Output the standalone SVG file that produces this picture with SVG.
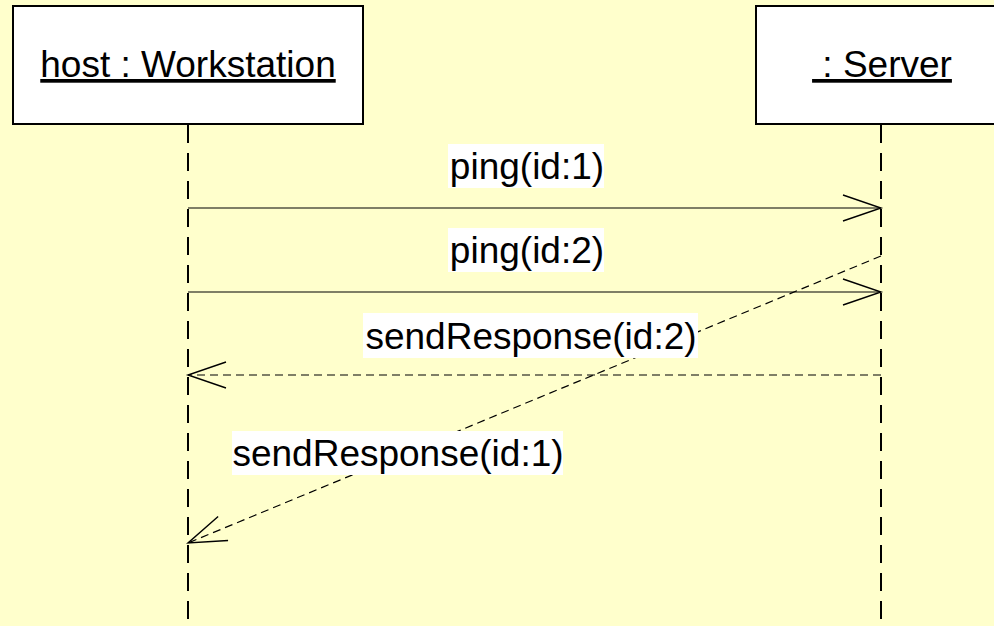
<svg xmlns="http://www.w3.org/2000/svg" width="994" height="626" viewBox="0 0 994 626">
<defs>
<style>
.obj{fill:#fff;stroke:#000;stroke-width:2}
.life{stroke:#000;stroke-width:2;stroke-dasharray:18 10;fill:none}
.msg{stroke:#000;stroke-width:1.2;fill:none}
.ret{stroke:#000;stroke-width:1.2;fill:none;stroke-dasharray:8 5}
.t{font-family:"Liberation Sans",Arial,sans-serif;font-size:37px;fill:#000}
.u{text-decoration:underline}
.lbl{fill:#fff}
</style>
<marker id="open" markerUnits="userSpaceOnUse" markerWidth="50" markerHeight="40" refX="0" refY="0" viewBox="-40 -20 50 40" orient="auto" overflow="visible">
<path d="M-38,-13 L0,0 L-38,13" fill="none" stroke="#000" stroke-width="1.4"/>
</marker>
</defs>
<rect width="994" height="626" fill="#FFFFCC"/>
<g id="node-host">
<rect class="obj" x="13" y="6" width="350" height="118"/>
<text class="t u" x="188" y="77" text-anchor="middle">host : Workstation</text>
<line class="life" x1="188" y1="125" x2="188" y2="626"/>
</g>
<g id="node-server">
<rect class="obj" x="756" y="6" width="240" height="118"/>
<text class="t u" x="882" y="77" text-anchor="middle" xml:space="preserve"> : Server</text>
<line class="life" x1="881" y1="125" x2="881" y2="626"/>
</g>
<g id="connectors">
<line class="msg" x1="188" y1="208" x2="881" y2="208" marker-end="url(#open)"/>
<line class="msg" x1="188" y1="292" x2="881" y2="292" marker-end="url(#open)"/>
<line class="ret" x1="881" y1="375" x2="188" y2="375" marker-end="url(#open)"/>
<line class="ret" x1="881" y1="256" x2="188" y2="543" marker-end="url(#open)"/>
</g>
<g id="labels">
<rect class="lbl" x="448" y="144" width="156" height="44"/>
<text class="t" x="527" y="179" text-anchor="middle">ping(id:1)</text>
<rect class="lbl" x="448" y="228" width="156" height="44"/>
<text class="t" x="527" y="263" text-anchor="middle">ping(id:2)</text>
<rect class="lbl" x="363" y="313" width="335" height="45"/>
<text class="t" x="531" y="349" text-anchor="middle">sendResponse(id:2)</text>
<rect class="lbl" x="232" y="431" width="331" height="44"/>
<text class="t" x="398" y="466" text-anchor="middle">sendResponse(id:1)</text>
</g>
</svg>
